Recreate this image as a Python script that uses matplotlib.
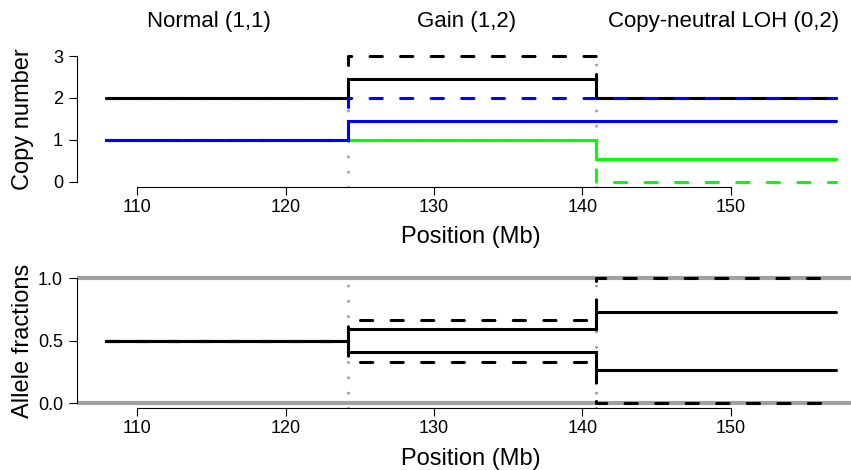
import matplotlib
matplotlib.use("Agg")
import matplotlib.pyplot as plt
import numpy as np

plt.rcParams['font.family'] = ['Liberation Sans', 'DejaVu Sans']

# segment breakpoints (Mb)
breaks = [107.9, 124.2, 140.9, 157.1]
region_names = ['Normal (1,1)', 'Gain (1,2)', 'Copy-neutral LOH (0,2)']
region_label_x = [114.8, 132.2, 149.5]

# copy numbers per segment (observed = solid, true = dashed)
total_obs = [2.0, 2.46, 2.0]
major_obs = [1.0, 1.46, 1.46]
minor_obs = [1.0, 1.0, 0.54]
total_true = [2.0, 3.0, 2.0]
major_true = [1.0, 2.0, 2.0]
minor_true = [1.0, 1.0, 0.0]

# allele fractions per segment
baf_hi_obs = [0.5, 0.593, 0.73]
baf_lo_obs = [0.5, 0.407, 0.27]
baf_hi_true = [0.5, 0.667, 1.0]
baf_lo_true = [0.5, 0.333, 0.0]

W, H = 851, 470
fig = plt.figure(figsize=(W / 100, H / 100), dpi=100)

ax1 = fig.add_axes([77 / W, 1 - 186.7 / H, (865 - 77) / W, 135.7 / H])
ax2 = fig.add_axes([77 / W, 1 - 408.3 / H, (865 - 77) / W, 135.0 / H])

LW = 2.2
GREY = '#a0a0a0'
DASH = dict(linestyle=(0, (4, 6)), dash_capstyle='round')


def seg(ax, vals, color, dashed=False, z=3):
    y = list(vals) + [vals[-1]]
    kw = DASH if dashed else dict(solid_capstyle='round')
    ax.plot(breaks, y, drawstyle='steps-post', color=color, lw=LW,
            solid_joinstyle='miter', zorder=z, **kw)


def style(ax, ylim, yticks, ylabels, ylabel):
    r = breaks[-1] - breaks[0]
    ax.set_xlim(breaks[0] - 0.04 * r, breaks[-1] + 0.04 * r)
    ax.set_ylim(*ylim)
    for s in ['top', 'right']:
        ax.spines[s].set_visible(False)
    ax.spines['left'].set_bounds(yticks[0], yticks[-1])
    ax.spines['bottom'].set_bounds(110, 150)
    for s in ['left', 'bottom']:
        ax.spines[s].set_linewidth(0.8)
    ax.set_xticks([110, 120, 130, 140, 150])
    ax.set_yticks(yticks)
    ax.set_yticklabels(ylabels)
    ax.tick_params(length=6, width=0.8, labelsize=13, pad=4)
    ax.tick_params(axis='x', pad=2.5)
    ax.set_xlabel('Position (Mb)', fontsize=17)
    ax.xaxis.set_label_coords(0.5, -0.417)
    ax.xaxis.label.set_va('baseline')
    ax.set_ylabel(ylabel, fontsize=17)
    ax.yaxis.set_label_coords(-0.0685, 0.5)
    ax.yaxis.label.set_va('center')


# top panel: copy numbers
for b in breaks[1:3]:
    ax1.axvline(b, color=GREY, lw=LW, linestyle=(0, (0.01, 5)),
                dash_capstyle='round', zorder=1)
seg(ax1, total_obs, 'black', z=3)
seg(ax1, total_true, 'black', dashed=True, z=4)
seg(ax1, minor_obs, '#00ff00', z=5)
seg(ax1, minor_true, '#00ff00', dashed=True, z=6)
seg(ax1, major_obs, '#0000ff', z=7)
seg(ax1, major_true, '#0000ff', dashed=True, z=8)
style(ax1, (-0.12, 3.12), [0, 1, 2, 3], ['0', '1', '2', '3'], 'Copy number')

for name, x in zip(region_names, region_label_x):
    ax1.text(x, 1.177, name, transform=ax1.get_xaxis_transform(),
             ha='center', va='baseline', fontsize=16)

# bottom panel: allele fractions
for h in [0, 1]:
    ax2.axhline(h, color=GREY, lw=3, zorder=1)
for b in breaks[1:3]:
    ax2.axvline(b, color=GREY, lw=LW, linestyle=(0, (0.01, 5)),
                dash_capstyle='round', zorder=1)
seg(ax2, baf_hi_true, 'black', dashed=True, z=3)
seg(ax2, baf_lo_true, 'black', dashed=True, z=3)
seg(ax2, baf_hi_obs, 'black', z=4)
seg(ax2, baf_lo_obs, 'black', z=4)
style(ax2, (-0.04, 1.04), [0, 0.5, 1], ['0.0', '0.5', '1.0'], 'Allele fractions')

fig.savefig('out.png', dpi=100)
